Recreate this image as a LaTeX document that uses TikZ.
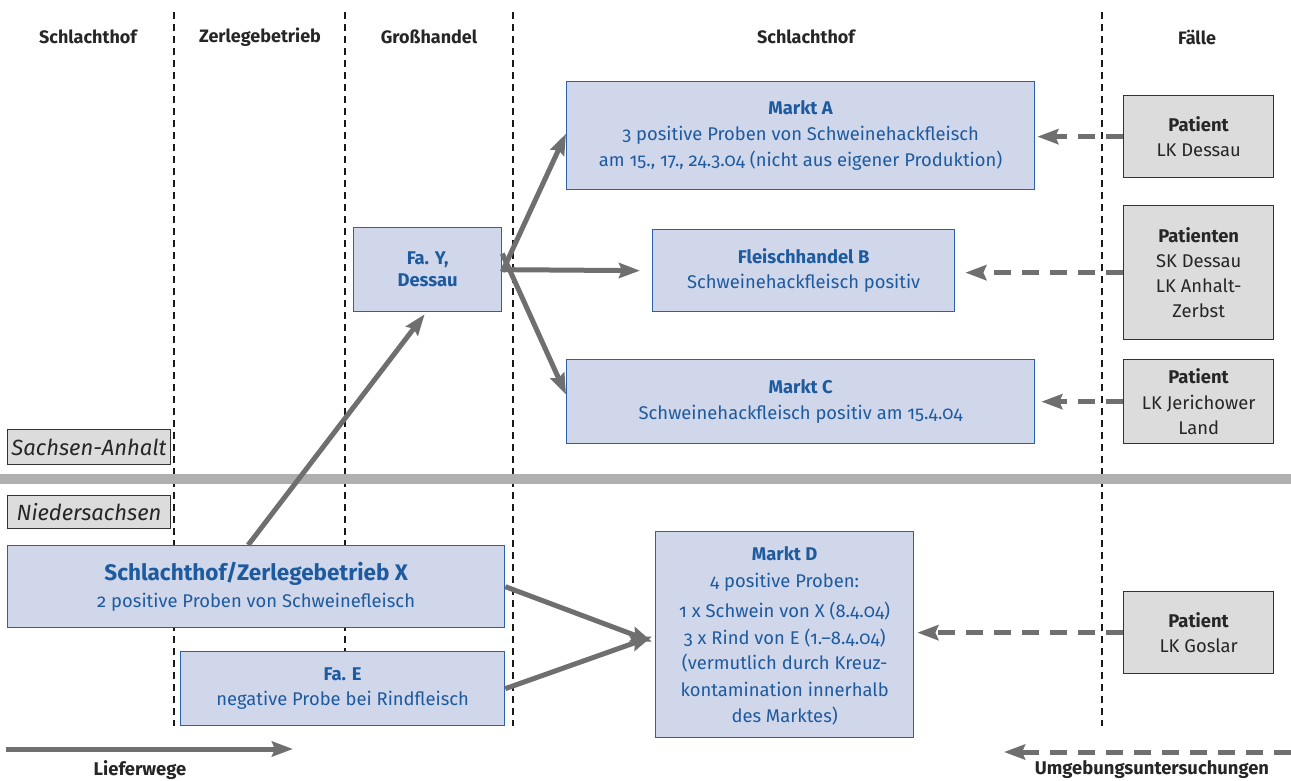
\documentclass[tikz,border=0pt]{standalone}
\usepackage{fontspec}
\setmainfont{Fira Sans}[Numbers=OldStyle]
\usetikzlibrary{arrows.meta}
\definecolor{boxfill}{HTML}{D0D7EB}
\definecolor{boxline}{HTML}{2A62AA}
\definecolor{boxtext}{HTML}{1E5A9E}
\definecolor{grayfill}{HTML}{DCDCDC}
\definecolor{arrowgray}{HTML}{6F6F6F}
\definecolor{bordergray}{HTML}{B0B0B0}
\begin{document}
\begin{tikzpicture}[x=1pt,y=-1pt,
  font=\fontsize{18.4}{25.5}\selectfont,
  bluebox/.style={draw=boxline,fill=boxfill,line width=1.3pt,text=boxtext,align=center,inner sep=0pt,anchor=north west},
  graybox/.style={draw=black!80,fill=grayfill,line width=1.3pt,text=black!85,align=center,inner sep=0pt,anchor=north west},
  landbox/.style={draw=black!80,fill=grayfill,line width=1pt,text=black!85,inner sep=0pt,anchor=north west},
  landtext/.style={font=\fontsize{22}{26}\selectfont\itshape,text=black!85},
  bluetext/.style={text=boxtext,align=center},
  graytext/.style={text=black!85,align=center},
  header/.style={font=\fontsize{18}{22}\selectfont\bfseries,text=black!85},
  divider/.style={line width=2.6pt,dash pattern=on 7pt off 5pt,black!90},
  supply/.style={line width=5pt,arrowgray,-{Stealth[length=21pt,width=15pt,inset=3pt]}},
  survey/.style={line width=5pt,arrowgray,dash pattern=on 17pt off 11pt,-{Stealth[length=21pt,width=15pt,inset=3pt]}},
  legendtext/.style={font=\fontsize{18.4}{22}\selectfont\bfseries,text=black!85}
]
\useasboundingbox (0,0) rectangle (1291,780);
% dividers
\draw[divider] (174,12) -- (174,726);
\draw[divider] (345,12) -- (345,652);
\draw[divider] (513,12) -- (513,726);
\draw[divider] (1102,12) -- (1102,726);
% headers
\node[header] (h1) at (88,37) {Schlachthof};
\node[header] (h2) at (260,37) {Zerlegebetrieb};
\node[header] (h3) at (429,37) {Großhandel};
\node[header] (h4) at (806,37) {Schlachthof};
\node[header] (h5) at (1197,37) {Fälle};
% state border
\fill[bordergray] (0,474) rectangle (1291,484);
\node[landbox,minimum width=163pt,minimum height=35pt] (sa) at (7,429) {};
\node[landtext] (sat) at (sa.center) {Sachsen-Anhalt};
\node[landbox,minimum width=163pt,minimum height=33pt] (ns) at (7,495) {};
\node[landtext] (nst) at (ns.center) {Niedersachsen};
% blue boxes
\node[bluebox,minimum width=468pt,minimum height=108pt] (mA) at (566,81) {};
\node[bluetext,font=\fontsize{18.4}{26}\selectfont] (mAt) at (mA.center) {\textbf{Markt A}\\3 positive Proben von Schweinehackfleisch\\am 15., 17., 24.3.04 (nicht aus eigener Produktion)};
\node[bluebox,minimum width=148pt,minimum height=84pt] (fY) at (353,227) {};
\node[bluetext,font=\fontsize{18.4}{22}\selectfont\bfseries] (fYt) at (fY.center) {Fa. Y,\\Dessau};
\node[bluebox,minimum width=302pt,minimum height=82pt] (fB) at (652,229) {};
\node[bluetext,font=\fontsize{18.4}{25}\selectfont] (fBt) at (fB.center) {\textbf{Fleischhandel B}\\Schweinehackfleisch positiv};
\node[bluebox,minimum width=468pt,minimum height=84pt] (mC) at (566,359) {};
\node[bluetext,font=\fontsize{18.4}{26}\selectfont] (mCt) at (mC.center) {\textbf{Markt C}\\Schweinehackfleisch positiv am 15.4.04};
\node[bluebox,minimum width=497pt,minimum height=82pt] (X) at (7,545) {};
\node[bluetext,font=\fontsize{18.4}{27}\selectfont] (Xt) at (X.center) {{\fontsize{22.5}{27}\selectfont\bfseries Schlachthof/Zerlegebetrieb X}\\2 positive Proben von Schweinefleisch};
\node[bluebox,minimum width=324pt,minimum height=74pt] (fE) at (180,651) {};
\node[bluetext,font=\fontsize{18.4}{25}\selectfont] (fEt) at (fE.center) {\textbf{Fa. E}\\negative Probe bei Rindfleisch};
\node[bluebox,minimum width=258pt,minimum height=206pt] (mD) at (655,531) {};
\node[bluetext,font=\fontsize{18.4}{26.5}\selectfont,anchor=north] (mDt) at ([yshift=-12pt]mD.north) {\textbf{Markt D}\\4 positive Proben:\\[4pt]1 x Schwein von X (8.4.04)\\3 x Rind von E (1.–8.4.04)\\[-1pt](vermutlich durch Kreuz-\\kontamination innerhalb\\des Marktes)};
% gray patient boxes
\node[graybox,minimum width=150pt,minimum height=82pt] (pA) at (1123,95) {};
\node[graytext] (pAt) at (pA.center) {\textbf{Patient}\\LK Dessau};
\node[graybox,minimum width=150pt,minimum height=134pt] (pB) at (1123,205) {};
\node[graytext,font=\fontsize{18.4}{25}\selectfont] (pBt) at (pB.center) {\textbf{Patienten}\\SK Dessau\\LK Anhalt-\\Zerbst};
\node[graybox,minimum width=150pt,minimum height=84pt] (pC) at (1123,359) {};
\node[graytext] (pCt) at (pC.center) {\textbf{Patient}\\LK Jerichower\\Land};
\node[graybox,minimum width=150pt,minimum height=82pt] (pD) at (1123,591) {};
\node[graytext] (pDt) at (pD.center) {\textbf{Patient}\\LK Goslar};
% supply arrows
\draw[supply] ([xshift=-8pt]X.north) -- ([xshift=-3pt,yshift=-2pt]fY.south);
\draw[supply] ([yshift=-2pt]fY.east) -- ([yshift=2pt]mA.west);
\draw[supply] (fY.east) -- ([xshift=-12pt]fB.west);
\draw[supply] ([yshift=16pt]fY.east) -- ([yshift=7pt]mC.west);
\draw[supply] (X.east) -- ([xshift=-3pt,yshift=-7pt]mD.west);
\draw[supply] (fE.east) -- ([xshift=-3pt,yshift=-2pt]mD.west);
% survey arrows
\draw[survey] (pA.west) -- ([xshift=2pt]mA.east |- pA.west);
\draw[survey] (pB.west) -- ([xshift=10pt]fB.east |- pB.west);
\draw[survey] (pC.west) -- ([xshift=6pt]mC.east |- pC.west);
\draw[survey] (pD.west) -- ([xshift=3pt]mD.east |- pD.west);
% legend
\coordinate (l1) at (6,749);
\coordinate (l2) at (293,749);
\draw[supply] (l1) -- (l2);
\node[legendtext] (lt1) at (140,770) {Lieferwege};
\coordinate (r1) at (1291,752);
\coordinate (r2) at (1004,752);
\draw[survey] (r1) -- (r2);
\node[legendtext] (lt2) at (1152,770) {Umgebungsuntersuchungen};
\end{tikzpicture}
\end{document}
